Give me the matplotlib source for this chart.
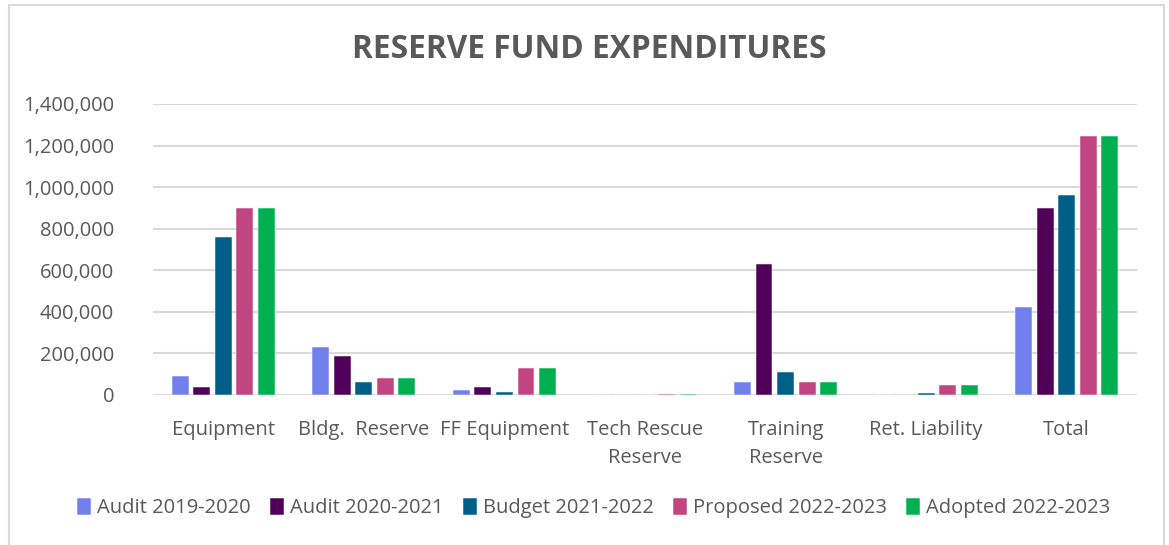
import numpy as np
import matplotlib
matplotlib.use("Agg")
import matplotlib.pyplot as plt
from matplotlib.patches import Rectangle
from matplotlib.ticker import FuncFormatter

# reserve fund spending by category, one list per fiscal column
categories = ["Equipment", "Bldg.  Reserve", "FF Equipment", "Tech Rescue\nReserve",
              "Training\nReserve", "Ret. Liability", "Total"]
series = ["Audit 2019-2020", "Audit 2020-2021", "Budget 2021-2022",
          "Proposed 2022-2023", "Adopted 2022-2023"]
audit_1920 = [93000, 232000, 24000, 0, 64000, 0, 425000]
audit_2021 = [40000, 189000, 38000, 0, 628000, 0, 901000]
budget_2122 = [758000, 61000, 14000, 0, 112000, 8000, 963000]
proposed_2223 = [899000, 82000, 130000, 7000, 64000, 48000, 1245000]
adopted_2223 = [899000, 82000, 130000, 7000, 64000, 48000, 1245000]
colors = ["#7280EE", "#500058", "#005F87", "#C04580", "#00B050"]

plt.rcParams['font.family'] = ['Open Sans', 'DejaVu Sans']
txt = "#595959"

fig = plt.figure(figsize=(11.69, 5.45), dpi=100)
ax = fig.add_axes([153/1169, 1-395/545, (1137-153)/1169, (395-104)/545])

x = np.arange(len(categories))
w = 0.12
step = 0.153
for i, (vals, c, name) in enumerate(zip(
        [audit_1920, audit_2021, budget_2122, proposed_2223, adopted_2223], colors, series)):
    ax.bar(x + (i - 2) * step, vals, width=w, color=c, label=name,
           edgecolor="white", linewidth=0.35, zorder=3)

ax.set_xlim(-0.5, len(categories) - 0.5)
ax.set_ylim(0, 1400000)
ax.set_yticks(np.arange(0, 1400001, 200000))
ax.yaxis.set_major_formatter(FuncFormatter(lambda v, p: f"{int(v):,}"))
ax.set_xticks(x)
ax.set_xticklabels(categories, linespacing=1.55)
ax.tick_params(length=0, labelsize=14.5, colors=txt)
ax.tick_params(axis="y", pad=28)
ax.tick_params(axis="x", pad=18)
ax.grid(axis="y", color="#D9D9D9", linewidth=1.5, zorder=0)
for s in ax.spines.values():
    s.set_visible(False)

fig.text(0.504, 1-49/545, "RESERVE FUND EXPENDITURES", ha="center", va="center",
         fontsize=22.8, fontweight="bold", color=txt)

fig.legend(loc="center", bbox_to_anchor=(0.508, 1-508/545), ncol=5, frameon=False,
           fontsize=14.5, labelcolor=txt, handlelength=0.7, handleheight=0.9,
           handletextpad=0.3, columnspacing=0.95)

fig.patches.append(Rectangle((9/1169, -0.05), 1155/1169, 1.05 - 5/545, transform=fig.transFigure,
                             fill=False, edgecolor="#D9D9D9", linewidth=1.5))

fig.savefig("out.png", dpi=100)
